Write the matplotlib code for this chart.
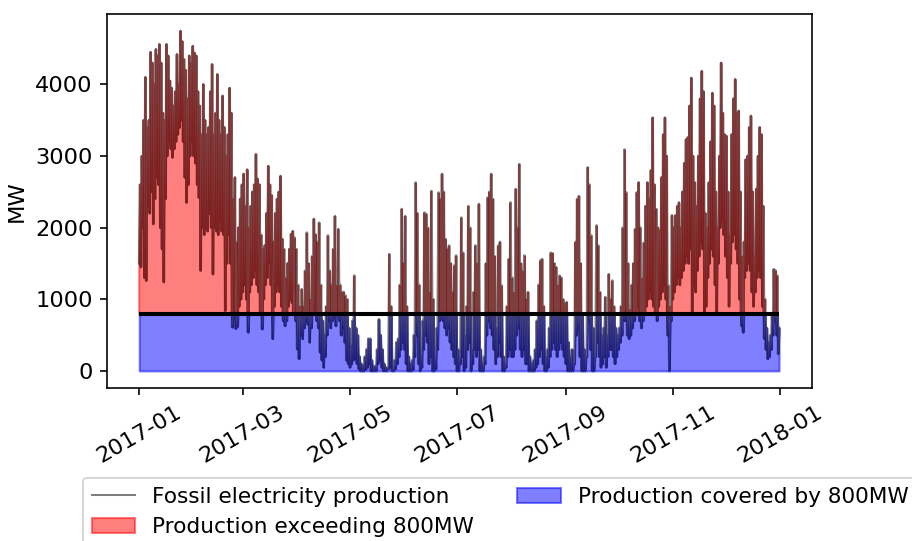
import numpy as np
import pandas as pd
import matplotlib
matplotlib.use("Agg")
import matplotlib.pyplot as plt
import matplotlib.dates as mdates
from matplotlib.lines import Line2D

# Daily high / low fossil production (MW), month by month
jan_hi = [2600, 3000, 3500, 4100, 3400, 3500, 4450, 4300, 4000, 4490, 4400, 4560, 4300, 3600, 3500, 4560,
          4400, 4050, 3950, 3700, 3900, 4420, 4000, 4745, 4600, 4350, 4200, 3800, 4400, 4300, 4535]
jan_lo = [1500, 1450, 2000, 1300, 1260, 2300, 2200, 2500, 2050, 2400, 2700, 2600, 2000, 1700, 1240, 2400,
          3000, 3200, 3100, 2980, 3100, 3200, 3300, 3400, 3500, 3200, 2700, 2350, 2600, 3000, 3200]
feb_hi = [4440, 4400, 3900, 3700, 3300, 4000, 3500, 3300, 3400, 3900, 4280, 3300, 3600, 4140,
          3500, 3300, 3840, 3400, 3000, 3300, 3950, 3600, 2400, 2700, 1800, 2000, 2400, 2600]
feb_lo = [3000, 2900, 2600, 2420, 1400, 2000, 1900, 2000, 1950, 2200, 2000, 1350, 2000, 1950,
          1900, 2100, 1950, 1900, 840, 1500, 1900, 1500, 610, 1200, 590, 620, 900, 1000]
mar_hi = [2750, 2300, 2810, 2000, 2300, 2500, 2600, 3025, 2680, 2600, 1900, 1700, 1750, 2200, 2860, 2600,
          2450, 1800, 2200, 2400, 2500, 2720, 1840, 1700, 1300, 1500, 1700, 1910, 1950, 1860, 1700]
mar_lo = [1100, 1200, 1000, 540, 1100, 1200, 1300, 1400, 1200, 1100, 800, 585, 1000, 1200, 1300, 1500,
          1200, 450, 900, 1100, 1200, 1100, 900, 700, 630, 700, 900, 1000, 950, 800, 700]
apr_hi = [1200, 900, 1140, 900, 1400, 1930, 1500, 1000, 1600, 2120, 1900, 1800, 2070, 1200, 700,
          500, 900, 1890, 1400, 1200, 1700, 2160, 1200, 1980, 1200, 1100, 1100, 1050, 1000, 600]
apr_lo = [305, 170, 500, 450, 600, 700, 650, 400, 600, 800, 850, 700, 600, 260, 150,
          50, 200, 500, 700, 600, 700, 800, 630, 800, 700, 500, 600, 400, 150, 100]
may_hi = [350, 700, 1330, 600, 500, 200, 100, 80, 200, 300, 450, 450, 150, 60, 70, 300,
          720, 500, 300, 100, 50, 40, 1630, 900, 50, 150, 400, 450, 1200, 2260, 1500]
may_lo = [50, 100, 150, 170, 100, 30, 0, 0, 0, 20, 50, 100, 0, 0, 0, 0,
          100, 150, 50, 0, 0, 0, 30, 50, 0, 0, 30, 100, 200, 300, 400]
jun_hi = [2160, 900, 200, 100, 150, 500, 2630, 2200, 1200, 200, 700, 2210, 2190, 2000, 1100,
          2510, 1000, 200, 600, 2490, 2400, 2750, 2500, 1840, 1700, 1750, 1500, 1100, 1470, 1610]
jun_lo = [300, 100, 0, 0, 0, 20, 200, 500, 100, 0, 50, 300, 500, 400, 100,
          200, 0, 0, 30, 300, 700, 800, 700, 600, 500, 600, 400, 300, 200, 100]
jul_hi = [300, 200, 2140, 1650, 500, 900, 2300, 2000, 300, 1100, 1750, 1500, 2330, 300, 100, 200,
          1500, 2420, 2500, 2750, 2400, 1600, 600, 1750, 1800, 1190, 200, 100, 900, 1560, 2350]
jul_lo = [0, 0, 100, 200, 0, 50, 300, 400, 0, 100, 300, 200, 300, 0, 0, 0,
          100, 500, 700, 600, 500, 300, 100, 200, 400, 200, 0, 0, 50, 200, 300]
aug_hi = [1300, 1100, 2540, 2000, 2885, 1500, 1400, 1610, 1000, 1100, 200, 100, 150, 300, 700, 1200,
          1540, 1560, 900, 200, 300, 600, 1650, 1640, 1500, 1450, 1200, 1330, 1300, 1000, 950]
aug_lo = [200, 200, 300, 500, 600, 300, 200, 300, 100, 100, 0, 0, 0, 0, 50, 100,
          200, 300, 100, 0, 0, 50, 200, 300, 400, 300, 200, 300, 400, 300, 200]
sep_hi = [960, 400, 200, 300, 100, 1800, 2400, 2440, 1500, 800, 300, 200, 2840, 2600, 1890,
          600, 200, 2030, 1750, 1100, 500, 600, 1030, 500, 1350, 1000, 1260, 900, 600, 500]
sep_lo = [100, 0, 0, 0, 0, 100, 500, 600, 200, 0, 0, 0, 200, 700, 300,
          0, 0, 200, 400, 200, 50, 100, 200, 50, 200, 300, 300, 200, 100, 200]
oct_hi = [600, 900, 2000, 3090, 2490, 1500, 860, 1200, 1500, 1980, 2490, 2630, 2000, 1300, 1790, 2300,
          2630, 2400, 2800, 3535, 2600, 2260, 2000, 1960, 2700, 3300, 3535, 3000, 1190, 900, 2170]
oct_lo = [300, 400, 500, 700, 700, 500, 450, 500, 600, 700, 800, 900, 700, 600, 700, 800,
          900, 1000, 1100, 1000, 900, 800, 700, 900, 1000, 1100, 1200, 1000, 500, 0, 700]
nov_hi = [2000, 2170, 2300, 2350, 2000, 2500, 2900, 3230, 3260, 3700, 4090, 3000, 2630, 2300, 3000,
          3800, 4185, 3900, 2200, 2000, 2630, 3200, 3880, 3700, 2500, 2000, 3000, 4300, 3600, 3300]
nov_lo = [1000, 1100, 1200, 1300, 1200, 1300, 1400, 1500, 1600, 1500, 1700, 820, 1200, 1100, 1400,
          1600, 1800, 1700, 820, 900, 1300, 1500, 1700, 1600, 1200, 820, 1500, 2000, 2100, 1900]
dec_hi = [3280, 2500, 1900, 3300, 3800, 4070, 3600, 3630, 2500, 1600, 1800, 2950, 3000, 3400, 3560, 2500,
          1600, 2540, 3000, 3400, 3300, 2300, 1000, 600, 400, 500, 800, 1420, 1400, 1330, 600]
dec_lo = [1600, 1300, 900, 1500, 1800, 1900, 1700, 1500, 1000, 630, 540, 1300, 1400, 1500, 1400, 1100,
          900, 1100, 1300, 1400, 1300, 900, 450, 300, 170, 200, 300, 500, 700, 500, 240]

threshold = 800

daily_hi = np.array(jan_hi + feb_hi + mar_hi + apr_hi + may_hi + jun_hi +
                    jul_hi + aug_hi + sep_hi + oct_hi + nov_hi + dec_hi, dtype=float)
daily_lo = np.array(jan_lo + feb_lo + mar_lo + apr_lo + may_lo + jun_lo +
                    jul_lo + aug_lo + sep_lo + oct_lo + nov_lo + dec_lo, dtype=float)

days = pd.date_range("2017-01-01", periods=len(daily_hi), freq="D")
t_lo = days + pd.Timedelta(hours=3)
t_hi = days + pd.Timedelta(hours=15)
times = np.empty(2 * len(days), dtype="datetime64[ns]")
times[0::2] = t_lo.values
times[1::2] = t_hi.values
values = np.empty(2 * len(days))
values[0::2] = daily_lo
values[1::2] = daily_hi

plt.rcParams["font.family"] = ["DejaVu Sans"]
dpi = 147
fig = plt.figure(figsize=(912 / dpi, 541 / dpi), dpi=dpi)
ax = fig.add_axes([0.1173, 0.283, 0.7727, 0.691])

red_fill = ax.fill_between(times, threshold, values, where=values > threshold, color="red", alpha=0.5)
blue_fill = ax.fill_between(times, 0, np.minimum(values, threshold), color="blue", alpha=0.5)
ax.plot(times, values, color="black", alpha=0.5, lw=1.3)
ax.hlines(threshold, times[0], times[-1], color="black", lw=2)

start = np.datetime64("2017-01-01T00:00")
end = np.datetime64("2017-12-31T23:00")
span = (end - start)
ax.set_xlim(start - span * 0.05, end + span * 0.05)

ax.xaxis.set_major_locator(mdates.MonthLocator(bymonth=[1, 3, 5, 7, 9, 11]))
ax.xaxis.set_major_formatter(mdates.DateFormatter("%Y-%m"))
ax.set_yticks([0, 1000, 2000, 3000, 4000])
ax.tick_params(labelsize=11)
plt.setp(ax.get_xticklabels(), rotation=30)
ax.set_ylabel("MW", fontsize=11)

line_handle = Line2D([], [], color="black", alpha=0.5, lw=1.0)
fig.legend([line_handle, red_fill, blue_fill],
           ["Fossil electricity production", "Production exceeding 800MW", "Production covered by 800MW"],
           ncol=2, loc="upper left", bbox_to_anchor=(83 / 912, 1 - 478 / 541),
           bbox_transform=fig.transFigure, borderaxespad=0, fontsize=10.6)

fig.savefig("out.png", dpi=dpi)
